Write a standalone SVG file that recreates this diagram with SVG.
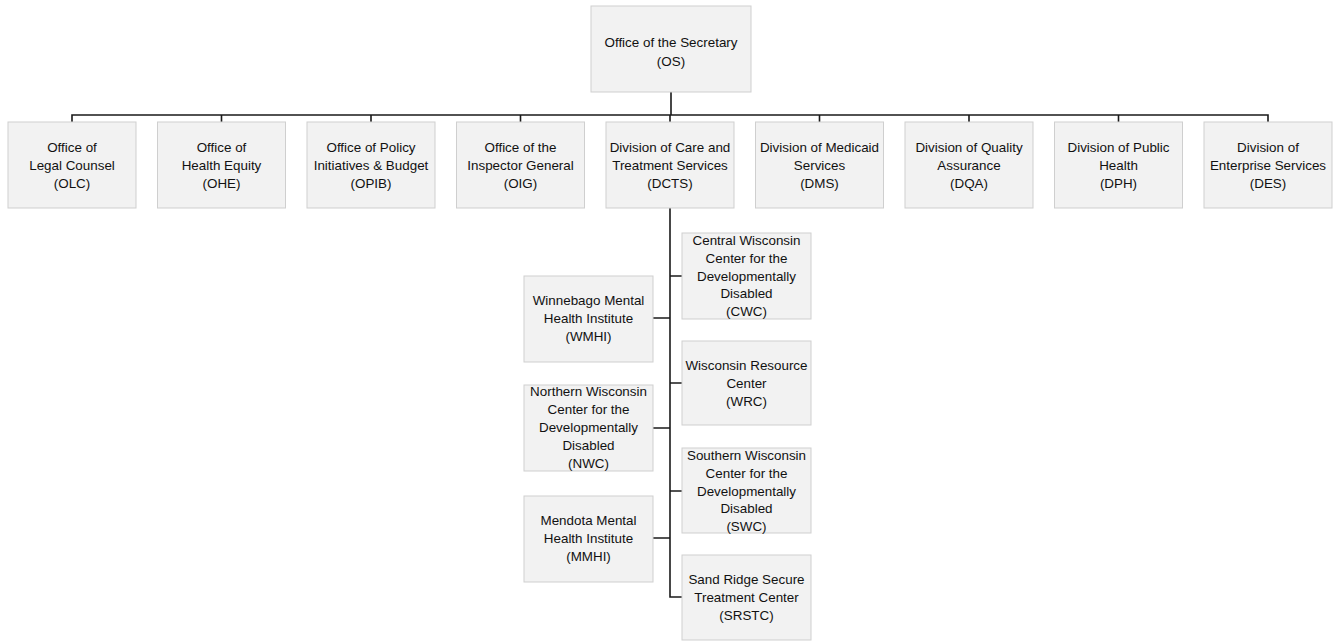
<svg xmlns="http://www.w3.org/2000/svg" width="1339" height="641" viewBox="0 0 1339 641">
<style>
.box{fill:#f2f2f2;stroke:#cfcfcf;stroke-width:1}
text{font-family:"Liberation Sans",Arial,sans-serif;font-size:13.4px;fill:#111111;text-anchor:middle}
.ln{stroke:#1a1a1a;stroke-width:1.6;fill:none}
</style>
<rect width="1339" height="641" fill="#ffffff"/>
<g id="connectors">
<path class="ln" d="M671 92V115M72 122V115H1268V122M221.5 115V122M371 115V122M520.5 115V122M670 115V122M819.5 115V122M969 115V122M1118.5 115V122"/>
<path class="ln" d="M670 208V597H682M670 276H682M670 383H682M670 491H682M653 318H670M653 428H670M653 538H670"/>
</g>
<g id="OS"><rect class="box" x="591" y="6" width="160" height="86"/><text x="671" y="47">Office of the Secretary</text><text x="671" y="66">(OS)</text></g>
<g id="OLC"><rect class="box" x="8" y="122" width="128" height="86"/><text x="72" y="152">Office of</text><text x="72" y="170">Legal Counsel</text><text x="72" y="188">(OLC)</text></g>
<g id="OHE"><rect class="box" x="157.5" y="122" width="128" height="86"/><text x="221.5" y="152">Office of</text><text x="221.5" y="170">Health Equity</text><text x="221.5" y="188">(OHE)</text></g>
<g id="OPIB"><rect class="box" x="307" y="122" width="128" height="86"/><text x="371" y="152">Office of Policy</text><text x="371" y="170">Initiatives &amp; Budget</text><text x="371" y="188">(OPIB)</text></g>
<g id="OIG"><rect class="box" x="456.5" y="122" width="128" height="86"/><text x="520.5" y="152">Office of the</text><text x="520.5" y="170">Inspector General</text><text x="520.5" y="188">(OIG)</text></g>
<g id="DCTS"><rect class="box" x="606" y="122" width="128" height="86"/><text x="670" y="152">Division of Care and</text><text x="670" y="170">Treatment Services</text><text x="670" y="188">(DCTS)</text></g>
<g id="DMS"><rect class="box" x="755.5" y="122" width="128" height="86"/><text x="819.5" y="152">Division of Medicaid</text><text x="819.5" y="170">Services</text><text x="819.5" y="188">(DMS)</text></g>
<g id="DQA"><rect class="box" x="905" y="122" width="128" height="86"/><text x="969" y="152">Division of Quality</text><text x="969" y="170">Assurance</text><text x="969" y="188">(DQA)</text></g>
<g id="DPH"><rect class="box" x="1054.5" y="122" width="128" height="86"/><text x="1118.5" y="152">Division of Public</text><text x="1118.5" y="170">Health</text><text x="1118.5" y="188">(DPH)</text></g>
<g id="DES"><rect class="box" x="1204" y="122" width="128" height="86"/><text x="1268" y="152">Division of</text><text x="1268" y="170">Enterprise Services</text><text x="1268" y="188">(DES)</text></g>
<g id="CWC"><rect class="box" x="682" y="233" width="129" height="86"/><text x="746.5" y="244.5">Central Wisconsin</text><text x="746.5" y="262.5">Center for the</text><text x="746.5" y="280.5">Developmentally</text><text x="746.5" y="298">Disabled</text><text x="746.5" y="316">(CWC)</text></g>
<g id="WRC"><rect class="box" x="682" y="341" width="129" height="84"/><text x="746.5" y="370">Wisconsin Resource</text><text x="746.5" y="388">Center</text><text x="746.5" y="406">(WRC)</text></g>
<g id="SWC"><rect class="box" x="682" y="448" width="129" height="85"/><text x="746.5" y="459.5">Southern Wisconsin</text><text x="746.5" y="477.5">Center for the</text><text x="746.5" y="495.5">Developmentally</text><text x="746.5" y="513">Disabled</text><text x="746.5" y="531">(SWC)</text></g>
<g id="SRSTC"><rect class="box" x="682" y="555" width="129" height="85"/><text x="746.5" y="584">Sand Ridge Secure</text><text x="746.5" y="602">Treatment Center</text><text x="746.5" y="620">(SRSTC)</text></g>
<g id="WMHI"><rect class="box" x="524" y="276" width="129" height="86"/><text x="588.5" y="305">Winnebago Mental</text><text x="588.5" y="323">Health Institute</text><text x="588.5" y="341">(WMHI)</text></g>
<g id="NWC"><rect class="box" x="524" y="385" width="129" height="86"/><text x="588.5" y="396">Northern Wisconsin</text><text x="588.5" y="414">Center for the</text><text x="588.5" y="432">Developmentally</text><text x="588.5" y="450">Disabled</text><text x="588.5" y="468">(NWC)</text></g>
<g id="MMHI"><rect class="box" x="524" y="496" width="129" height="86"/><text x="588.5" y="524.5">Mendota Mental</text><text x="588.5" y="542.5">Health Institute</text><text x="588.5" y="560.5">(MMHI)</text></g>
</svg>
